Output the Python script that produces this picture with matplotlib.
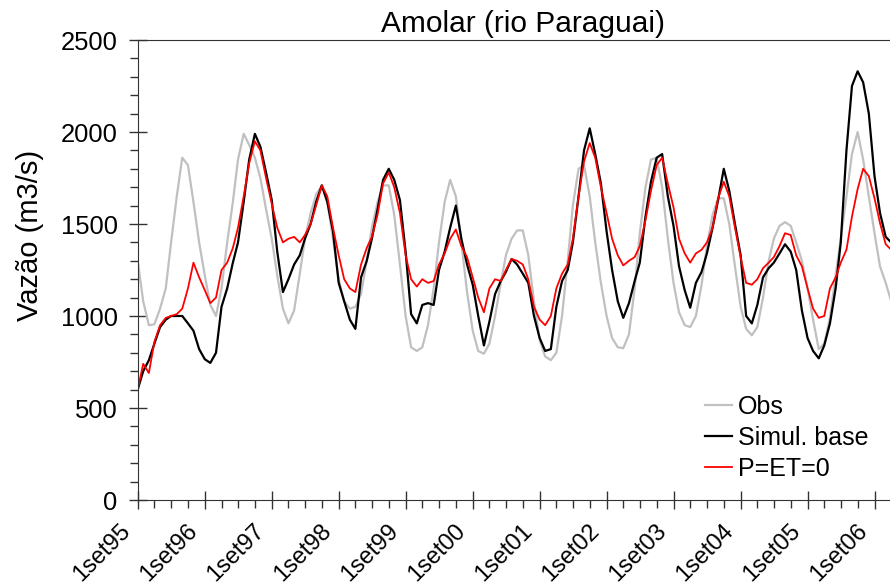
import pandas as pd
import matplotlib
matplotlib.use("Agg")
import matplotlib.pyplot as plt
from matplotlib.ticker import MultipleLocator, FixedLocator
from matplotlib.dates import MonthLocator, date2num
from matplotlib.transforms import ScaledTranslation

plt.rcParams['font.family'] = ['Liberation Sans', 'DejaVu Sans']

# monthly values (1st of each month), Sep 1995 .. Dec 2006
months = pd.date_range('1995-09-01', '2006-12-01', freq='MS')

obs = [1300, 1080, 950, 955, 1040, 1150, 1400, 1650, 1860, 1820, 1620, 1400,
       1220, 1060, 1000, 1150, 1400, 1620, 1850, 1990, 1930, 1860, 1750, 1580,
       1420, 1220, 1040, 960, 1030, 1230, 1420, 1560, 1660, 1710, 1620, 1420,
       1200, 1080, 1040, 1050, 1120, 1300, 1480, 1620, 1710, 1710, 1550, 1280,
       1000, 830, 810, 830, 950, 1150, 1400, 1620, 1740, 1650, 1400, 1130,
       920, 810, 795, 850, 1000, 1180, 1330, 1420, 1465, 1465, 1330, 1080,
       870, 780, 760, 800, 1000, 1300, 1600, 1800, 1820, 1650, 1400, 1180,
       1000, 880, 830, 825, 900, 1150, 1450, 1700, 1850, 1860, 1700, 1420,
       1180, 1020, 950, 940, 1000, 1170, 1380, 1550, 1640, 1640, 1500, 1270,
       1050, 930, 895, 940, 1100, 1300, 1420, 1490, 1510, 1490, 1400, 1300,
       1150, 980, 820, 850, 990, 1220, 1420, 1650, 1880, 2000, 1850, 1650,
       1450, 1270, 1180, 1080]

simul_base = [600, 700, 760, 850, 940, 980, 1000, 1000, 1000, 960, 920, 820,
              765, 745, 800, 1050, 1150, 1290, 1400, 1620, 1850, 1990, 1920, 1780,
              1630, 1350, 1130, 1200, 1280, 1330, 1420, 1500, 1620, 1710, 1620, 1460,
              1180, 1080, 980, 930, 1210, 1300, 1420, 1580, 1740, 1800, 1740, 1630,
              1350, 1010, 960, 1060, 1070, 1060, 1250, 1350, 1480, 1600, 1420, 1280,
              1170, 1000, 840, 970, 1120, 1190, 1240, 1310, 1280, 1230, 1180, 1000,
              880, 810, 820, 1050, 1190, 1250, 1400, 1650, 1900, 2020, 1880, 1720,
              1460, 1250, 1080, 990, 1070, 1190, 1290, 1540, 1730, 1860, 1880, 1650,
              1490, 1270, 1140, 1045, 1180, 1240, 1340, 1480, 1630, 1800, 1680, 1500,
              1330, 1000, 960, 1060, 1210, 1260, 1290, 1340, 1390, 1350, 1250, 1030,
              880, 810, 770, 840, 960, 1150, 1400, 1900, 2250, 2330, 2270, 2100,
              1760, 1560, 1430, 1400]

p_et_zero = [600, 740, 690, 860, 950, 990, 1000, 1010, 1040, 1150, 1290, 1210,
             1140, 1070, 1100, 1250, 1290, 1370, 1480, 1650, 1830, 1950, 1900, 1750,
             1610, 1480, 1400, 1420, 1430, 1400, 1440, 1500, 1600, 1710, 1650, 1480,
             1330, 1200, 1150, 1130, 1280, 1370, 1430, 1550, 1720, 1780, 1700, 1560,
             1330, 1200, 1160, 1200, 1180, 1190, 1280, 1340, 1420, 1470, 1380, 1320,
             1210, 1100, 1020, 1150, 1200, 1190, 1250, 1310, 1300, 1280, 1200, 1050,
             980, 950, 1000, 1150, 1230, 1280, 1420, 1650, 1840, 1940, 1860, 1700,
             1560, 1420, 1330, 1275, 1300, 1320, 1380, 1520, 1680, 1820, 1860, 1720,
             1590, 1420, 1340, 1290, 1340, 1360, 1400, 1480, 1640, 1730, 1650, 1480,
             1320, 1180, 1170, 1200, 1260, 1290, 1320, 1380, 1450, 1440, 1330, 1270,
             1150, 1040, 990, 1000, 1150, 1210, 1290, 1360, 1540, 1690, 1800, 1760,
             1640, 1505, 1390, 1360]

year_ticks = pd.date_range('1995-09-01', '2006-09-01', freq='12MS')
year_labels = ['1set95', '1set96', '1set97', '1set98', '1set99', '1set00',
               '1set01', '1set02', '1set03', '1set04', '1set05', '1set06']

fig = plt.figure(figsize=(8.9, 5.85), dpi=100)
ax = fig.add_axes([137.7 / 890, 85 / 585, 770 / 890, 460 / 585])

ax.plot(months, obs, color='#c0c0c0', lw=1.6, label='Obs')
ax.plot(months, simul_base, color='black', lw=1.6, label='Simul. base')
ax.plot(months, p_et_zero, color='#ff0000', lw=1.3, label='P=ET=0')

ax.set_xlim(pd.Timestamp('1995-09-01'), pd.Timestamp('2007-03-01'))
ax.set_ylim(0, 2500)

ax.xaxis.set_major_locator(FixedLocator(date2num(year_ticks)))
ax.xaxis.set_minor_locator(MonthLocator(bymonth=[12, 3, 6]))
ax.set_xticklabels(year_labels, rotation=45, ha='right', va='baseline',
                   rotation_mode='anchor', fontsize=17)
ax.yaxis.set_major_locator(MultipleLocator(500))
ax.yaxis.set_minor_locator(MultipleLocator(100))

ax.tick_params(which='major', direction='inout', length=13, width=1,
               color='#333333')
ax.tick_params(axis='y', which='major', labelsize=18.4, pad=8)
ax.tick_params(which='minor', direction='out', length=6, width=1, color='#333333')
ax.tick_params(axis='x', which='major', pad=16.5)
off = ScaledTranslation(-6.5 / 100, 0, fig.dpi_scale_trans)
for lab in ax.get_xticklabels():
    lab.set_transform(lab.get_transform() + off)

for side in ['left', 'bottom', 'top']:
    ax.spines[side].set_color('#333333')
ax.spines['right'].set_visible(False)

ax.set_title('Amolar (rio Paraguai)', fontsize=21.5, pad=6)
ax.set_ylabel('Vazão (m3/s)', fontsize=21)
ax.yaxis.set_label_coords((44 - 137.7) / 770, 0.575)

ax.legend(loc='upper left', bbox_to_anchor=(705 / 890, 1 - 395 / 585),
          bbox_transform=fig.transFigure, frameon=False, fontsize=18,
          handlelength=1.07, handletextpad=0.25, labelspacing=0.28,
          borderpad=0, borderaxespad=0)

fig.savefig('out.png', dpi=100)
